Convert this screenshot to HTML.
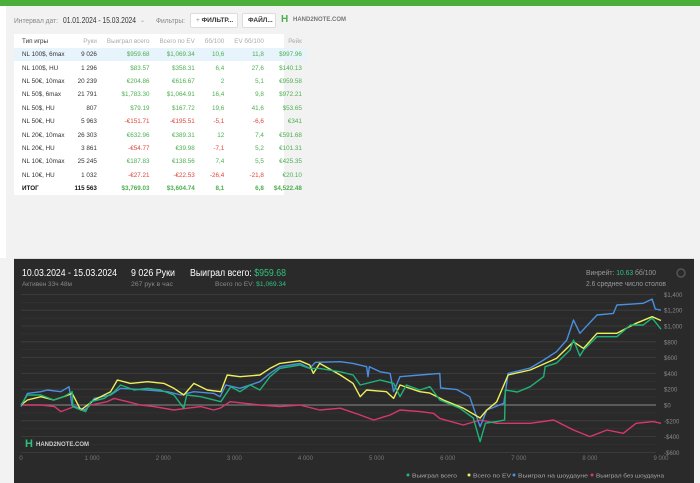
<!DOCTYPE html>
<html><head><meta charset="utf-8"><style>
*{margin:0;padding:0;box-sizing:border-box}
body{width:700px;height:483px;overflow:hidden;background:#f2f2f2;font-family:"Liberation Sans","Noto Sans CJK SC",sans-serif;position:relative}
.abs{position:absolute;white-space:nowrap}
#topbar{left:0;top:0;width:700px;height:6px;background:#4caf3a}
#leftstrip{left:0;top:6px;width:6px;height:252px;background:#fff}
.btn{background:#fff;border:1px solid #ddd;border-radius:2px;font-size:6.5px;color:#333;height:15px;line-height:13px;padding:0 5px;font-weight:bold}
#tbl{left:14px;top:34px;width:270px;height:161px;background:#fff}
table{border-collapse:collapse;width:270px;font-size:6.3px}
td,th{height:13.4px;padding:0 5px;text-align:right;font-weight:normal}
th{color:#aaa;height:14px}
td:first-child,th:first-child{text-align:left;color:#333;padding-left:8px}
td.n{color:#333}
.g{color:#4caf50}.r{color:#e0443a}
tr.sel td{background:#e8f4fb}
tr.tot td{font-weight:bold;color:#111}
tr.tot td.g{color:#4caf50}
</style></head><body>
<div class="abs" id="topbar"></div>
<div class="abs" id="leftstrip"></div>
<svg class="abs" style="left:0;top:0" width="700" height="34">
<text x="14" y="23" font-size="7" fill="#888" textLength="44" lengthAdjust="spacingAndGlyphs">Интервал дат:</text>
<text x="63" y="23" font-size="8" fill="#333" textLength="73" lengthAdjust="spacingAndGlyphs">01.01.2024 - 15.03.2024</text>
<text x="140" y="22" font-size="6" fill="#999">⌄</text>
<text x="156" y="23" font-size="7" fill="#888" textLength="29" lengthAdjust="spacingAndGlyphs">Фильтры:</text>
</svg>
<div class="abs btn" style="left:190px;top:13px;width:48px"><span style="color:#888;font-weight:normal">+</span> ФИЛЬТР...</div>
<div class="abs btn" style="left:242px;top:13px;width:34px">ФАЙЛ...</div>
<div class="abs" style="left:281px;top:14px;font-size:10px;color:#4caf50;font-weight:bold">H</div>
<div class="abs" style="left:293px;top:17px;font-size:6px;color:#777;font-weight:bold">HAND2NOTE.COM</div>

<div class="abs" id="tbl">
<table>
<tr><th>Тип игры</th><th>Руки</th><th>Выиграл всего</th><th>Всего по EV</th><th>бб/100</th><th>EV бб/100</th><th>Рейк</th></tr>
<tr class="sel"><td>NL 100$, 6max</td><td class="n">9 026</td><td class="g">$959.68</td><td class="g">$1,069.34</td><td class="g">10,6</td><td class="g">11,8</td><td class="g">$997.96</td></tr>
<tr><td>NL 100$, HU</td><td class="n">1 296</td><td class="g">$83.57</td><td class="g">$358.31</td><td class="g">6,4</td><td class="g">27,6</td><td class="g">$140.13</td></tr>
<tr><td>NL 50€, 10max</td><td class="n">20 239</td><td class="g">€204.86</td><td class="g">€616.67</td><td class="g">2</td><td class="g">5,1</td><td class="g">€959.58</td></tr>
<tr><td>NL 50$, 6max</td><td class="n">21 791</td><td class="g">$1,783.30</td><td class="g">$1,064.91</td><td class="g">16,4</td><td class="g">9,8</td><td class="g">$972.21</td></tr>
<tr><td>NL 50$, HU</td><td class="n">807</td><td class="g">$79.19</td><td class="g">$167.72</td><td class="g">19,6</td><td class="g">41,6</td><td class="g">$53.65</td></tr>
<tr><td>NL 50€, HU</td><td class="n">5 963</td><td class="r">-€151.71</td><td class="r">-€195.51</td><td class="r">-5,1</td><td class="r">-6,6</td><td class="g">€341</td></tr>
<tr><td>NL 20€, 10max</td><td class="n">26 303</td><td class="g">€632.96</td><td class="g">€389.31</td><td class="g">12</td><td class="g">7,4</td><td class="g">€591.68</td></tr>
<tr><td>NL 20€, HU</td><td class="n">3 861</td><td class="r">-€54.77</td><td class="g">€39.98</td><td class="r">-7,1</td><td class="g">5,2</td><td class="g">€101.31</td></tr>
<tr><td>NL 10€, 10max</td><td class="n">25 245</td><td class="g">€187.83</td><td class="g">€138.56</td><td class="g">7,4</td><td class="g">5,5</td><td class="g">€425.35</td></tr>
<tr><td>NL 10€, HU</td><td class="n">1 032</td><td class="r">-€27.21</td><td class="r">-€22.53</td><td class="r">-26,4</td><td class="r">-21,8</td><td class="g">€20.10</td></tr>
<tr class="tot"><td>ИТОГ</td><td>115 563</td><td class="g">$3,769.03</td><td class="g">$3,604.74</td><td class="g">8,1</td><td class="g">6,8</td><td class="g">$4,522.48</td></tr>
</table></div>

<svg class="abs" style="left:0;top:0" width="700" height="483" id="chart">
<rect x="14" y="258" width="680" height="1" fill="#ddd"/>
<rect x="14" y="259" width="680" height="224" fill="#2a2a2a"/>
<g id="grid"></g>
<g id="lines"></g>
<g id="labels" font-family="Liberation Sans, sans-serif"></g>
<text x="22" y="276" font-size="10" fill="#fff" textLength="95" lengthAdjust="spacingAndGlyphs">10.03.2024 - 15.03.2024</text>
<text x="22" y="286" font-size="6.5" fill="#888" textLength="50" lengthAdjust="spacingAndGlyphs">Активен 33ч 48м</text>
<text x="131" y="276" font-size="10" fill="#fff" textLength="44" lengthAdjust="spacingAndGlyphs">9 026 Руки</text>
<text x="131" y="286" font-size="6.5" fill="#888" textLength="42" lengthAdjust="spacingAndGlyphs">267 рук в час</text>
<text x="190" y="276" font-size="10" fill="#fff" textLength="96" lengthAdjust="spacingAndGlyphs">Выиграл всего: <tspan fill="#2ec27e">$959.68</tspan></text>
<text x="215" y="286" font-size="6.5" fill="#888" textLength="71" lengthAdjust="spacingAndGlyphs">Всего по EV: <tspan fill="#2ec27e">$1,069.34</tspan></text>
<text x="586" y="275" font-size="7" fill="#999" textLength="70" lengthAdjust="spacingAndGlyphs">Винрейт: <tspan fill="#2ec27e">10.63</tspan> бб/100</text>
<text x="586" y="286" font-size="7" fill="#999" textLength="80" lengthAdjust="spacingAndGlyphs">2.6 среднее число столов</text>
<circle cx="681" cy="273" r="4" fill="none" stroke="#555" stroke-width="1.5"/>
<text x="25" y="447" font-size="11" fill="#2ec27e" font-weight="bold">H</text>
<text x="36" y="446" font-size="6" fill="#ccc" font-weight="bold">HAND2NOTE.COM</text>
<g id="legend" font-size="5.8" fill="#aaa"></g>
</svg>

<script>
const xTicks=[0,1000,2000,3000,4000,5000,6000,7000,8000,9000];
const xTickLabels=["0","1 000","2 000","3 000","4 000","5 000","6 000","7 000","8 000","9 000"];
const yTicks=[1400,1200,1000,800,600,400,200,0,-200,-400,-600];
const yTickLabels=["$1,400","$1,200","$1,000","$800","$600","$400","$200","$0","-$200","-$400","-$600"];
const seriesNames=["Выиграл всего","Всего по EV","Выиграл на шоудауне","Выиграл без шоудауна"];
const wonHands=[0,90,280,460,600,720,730,840,910,980,1170,1310,1400,1590,1780,1960,2150,2290,2330,2530,2810,2950,3080,3220,3360,3500,3640,3920,4060,4200,4490,4670,4770,5050,5240,5330,5420,5610,5750,5890,6170,6360,6456,6530,6690,6800,6810,6980,7160,7350,7370,7530,7720,7770,7860,7910,8100,8380,8570,8750,8875,9000];
const wonValues=[0,126,126,63,105,168,-20,-63,-84,42,84,168,253,190,211,190,126,-40,126,105,42,232,168,253,190,358,463,506,463,463,420,380,253,316,274,105,253,190,232,63,-40,-165,-465,-230,-210,-190,190,165,232,359,485,530,696,823,620,696,865,865,1013,1013,1100,960];
const evHands=[0,90,280,460,600,720,840,1030,1260,1355,1540,1780,2010,2150,2290,2430,2620,2810,2900,3080,3360,3500,3640,3920,4060,4110,4200,4490,4670,4770,4860,5140,5240,5330,5610,5750,5940,6220,6456,6550,6690,6850,7160,7530,7770,7910,8100,8380,8650,8875,9000];
const evValues=[0,63,105,63,105,147,-63,63,168,316,274,295,274,211,126,274,190,168,380,358,380,463,527,560,506,400,527,380,274,105,190,168,84,253,168,150,63,-40,-165,-63,40,380,443,590,800,717,907,907,1034,1118,1070];
const sdHands=[0,90,280,370,560,675,720,910,1030,1260,1400,1780,2060,2250,2430,2710,2800,2880,3080,3360,3500,3640,3920,4060,4140,4490,4670,4860,4880,4900,5050,5190,5240,5330,5610,5890,5900,6130,6310,6456,6550,6790,6850,7160,7350,7530,7675,7770,7860,8100,8330,8380,8750,8875,8920,9000];
const sdValues=[-20,147,168,190,168,232,-10,-63,84,126,211,190,168,126,168,147,105,253,211,295,400,485,527,463,540,548,527,485,358,485,420,400,168,358,380,400,215,195,105,-275,-63,21,400,468,570,675,823,1076,907,1139,1160,1266,1287,1340,1215,1200];
const nsdHands=[0,280,470,560,750,890,980,1210,1310,1500,1680,1870,2150,2340,2530,2710,2800,2940,3360,3640,3920,4200,4490,4770,4960,5190,5330,5610,5800,5890,6220,6456,6690,7160,7490,7770,8000,8240,8470,8650,8890,9000];
const nsdValues=[0,0,-20,-84,-20,-63,0,42,84,42,0,-20,-63,-40,-20,-63,-40,42,0,-20,0,-63,-40,-126,-190,-126,-63,-84,-105,-170,-253,-190,-232,-232,-190,-316,-400,-316,-358,-232,-210,-232];

const X0=21,X1=661,XMAX=9000,Y0=405,PER=15.8/200;
function sx(h){return X0+h/XMAX*(X1-X0);}
function sy(v){return Y0-v*PER;}
const NS="http://www.w3.org/2000/svg";
function mk(tag,attrs,parent){const e=document.createElementNS(NS,tag);for(const k in attrs)e.setAttribute(k,attrs[k]);parent.appendChild(e);return e;}
const grid=document.getElementById('grid'),labels=document.getElementById('labels'),lines=document.getElementById('lines'),legend=document.getElementById('legend');
yTicks.forEach((v,i)=>{
  const l=mk('line',{x1:X0,x2:656,y1:sy(v),y2:sy(v),stroke:v===0?'#777':'#404040','stroke-width':v===0?1.2:0.8},grid);
  
  
  if(v<1400){const m=mk('line',{x1:X0,x2:656,y1:sy(v+100),y2:sy(v+100),stroke:'#353535','stroke-width':0.6},grid);
  
  }
  const t=mk('text',{x:664,y:sy(v)+2.5,'font-size':6,fill:'#888'},labels);t.textContent=yTickLabels[i];
  
  
});
xTicks.forEach((h,i)=>{
  const t=mk('text',{x:sx(h),y:460,'font-size':6,fill:'#777','text-anchor':'middle'},labels);t.textContent=xTickLabels[i];
  
  
});
const series=[[nsdHands,nsdValues,'#d6386e','line-no-showdown'],[sdHands,sdValues,'#4a8fe0','line-showdown'],[evHands,evValues,'#eef05a','line-ev'],[wonHands,wonValues,'#1fb377','line-won-total']];
series.forEach(s=>{
  const d=s[0].map((h,i)=>(i?'L':'M')+sx(h).toFixed(1)+','+sy(s[1][i]).toFixed(1)).join('');
  const p=mk('path',{d:d,fill:'none',stroke:s[2],'stroke-width':1.4,'stroke-linejoin':'round'},lines);
  
  
});
const legColors=['#1fb377','#eef05a','#4a8fe0','#d6386e'];
const legX=[408,469,514,592];
const legW=[45,38,70,68];
seriesNames.forEach((n,i)=>{
  const c=mk('circle',{cx:legX[i],cy:475,r:1.5,fill:legColors[i]},legend);
  
  
  const t=mk('text',{x:legX[i]+4,y:477.5,textLength:legW[i],lengthAdjust:'spacingAndGlyphs'},legend);t.textContent=n;
  
  
});
</script>
</body></html>
